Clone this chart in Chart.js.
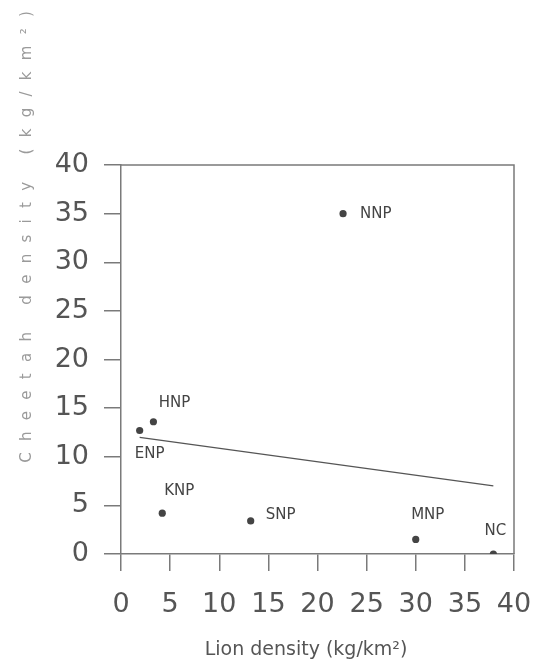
<!DOCTYPE html>
<html>
<head>
<meta charset="utf-8">
<script src="https://cdn.jsdelivr.net/npm/chart.js@4/dist/chart.umd.min.js"></script>
<style>
  html, body { margin: 0; padding: 0; background: #fff; }
  #wrap { width: 534px; height: 666px; }
</style>
</head>
<body>
<div id="wrap"><canvas id="chart"></canvas></div>
<script>
// Data
var parks = ["NNP", "HNP", "ENP", "KNP", "SNP", "MNP", "NC"];
var lionDensity = [22.6, 3.3, 1.9, 4.2, 13.2, 30.0, 37.9];
var cheetahDensity = [35.0, 13.6, 12.7, 4.2, 3.4, 1.5, 0.0];

// regression line end points
var fitX = [1.9, 37.9];
var fitY = [12.0, 7.0];

var axisTicks = [0, 5, 10, 15, 20, 25, 30, 35, 40];

// where each park label sits relative to its dot (px)
var labelOffsets = {
    NNP: { dx: 17, dy: 0, align: "left" },
    HNP: { dx: 21, dy: -19, align: "center" },
    ENP: { dx: 10, dy: 24, align: "center" },
    KNP: { dx: 17, dy: -22, align: "center" },
    SNP: { dx: 15, dy: -6, align: "left" },
    MNP: { dx: 12, dy: -24, align: "center" },
    NC:  { dx: 2,  dy: -23, align: "center" }
};

var axisGrey = "#7a7a7a";
var textGrey = "#555";

// park names next to the dots
var pointLabels = {
    id: "pointLabels",
    afterDatasetsDraw: function (chart) {
        var ctx = chart.ctx;
        var meta = chart.getDatasetMeta(0);
        ctx.save();
        ctx.font = "15px 'DejaVu Sans'";
        ctx.fillStyle = "#444";
        ctx.textBaseline = "middle";
        meta.data.forEach(function (pt, i) {
            var off = labelOffsets[parks[i]];
            ctx.textAlign = off.align;
            ctx.fillText(parks[i], pt.x + off.dx, pt.y + off.dy);
        });
        ctx.restore();
    }
};

// top + right border, the spaced-out y title and the x title
var frame = {
    id: "frame",
    afterDraw: function (chart) {
        var a = chart.chartArea;
        var ctx = chart.ctx;
        ctx.save();
        ctx.strokeStyle = axisGrey;
        ctx.lineWidth = 1.5;
        ctx.beginPath();
        ctx.moveTo(a.left, a.top);
        ctx.lineTo(a.right, a.top);
        ctx.lineTo(a.right, a.bottom);
        ctx.stroke();

        // x title, sits a little left of the plot centre in the original
        ctx.font = "19px 'DejaVu Sans'";
        ctx.fillStyle = textGrey;
        ctx.textAlign = "center";
        ctx.textBaseline = "middle";
        ctx.fillText("Lion density (kg/km\u00B2)", 306, 650);

        // y title, letters spread out
        var title = "Cheetah density (kg/km\u00B2)";
        var spacing = 11.3;
        ctx.font = "15px 'DejaVu Sans'";
        ctx.fillStyle = "#9a9a9a";
        ctx.textAlign = "left";
        var total = 0;
        for (var i = 0; i < title.length; i++) {
            total += ctx.measureText(title[i]).width + (i < title.length - 1 ? spacing : 0);
        }
        ctx.translate(27, 237);
        ctx.rotate(-Math.PI / 2);
        var x = -total / 2;
        for (var j = 0; j < title.length; j++) {
            ctx.fillText(title[j], x, 0);
            x += ctx.measureText(title[j]).width + spacing;
        }
        ctx.restore();
    }
};

var scatterPoints = lionDensity.map(function (v, i) {
    return { x: v, y: cheetahDensity[i] };
});
var fitPoints = fitX.map(function (v, i) {
    return { x: v, y: fitY[i] };
});

var ctx = document.getElementById("chart").getContext("2d");
var myChart = new Chart(ctx, {
    type: "scatter",
    data: {
        datasets: [
            {
                label: "Parks",
                data: scatterPoints,
                backgroundColor: "#444",
                borderWidth: 0,
                pointRadius: 3.6
            },
            {
                type: "line",
                label: "Fit",
                data: fitPoints,
                borderColor: "#555",
                borderWidth: 1.3,
                pointRadius: 0,
                fill: false
            }
        ]
    },
    options: {
        responsive: true,
        maintainAspectRatio: false,
        animation: false,
        layout: { padding: { left: 0, right: 20, top: 165, bottom: 0 } },
        plugins: {
            legend: { display: false },
            tooltip: { enabled: false }
        },
        scales: {
            x: {
                type: "linear",
                min: 0,
                max: 40,
                afterBuildTicks: function (scale) {
                    scale.ticks = axisTicks.map(function (v) { return { value: v }; });
                },
                afterFit: function (scale) {
                    scale.height = 112;
                    scale.paddingLeft = 0;
                    scale.paddingRight = 0;
                },
                ticks: {
                    color: textGrey,
                    font: { family: "DejaVu Sans", size: 27 },
                    padding: 18,
                    maxRotation: 0,
                    autoSkip: false
                },
                grid: {
                    drawOnChartArea: false,
                    drawTicks: true,
                    tickLength: 17,
                    color: axisGrey,
                    lineWidth: 1.5
                },
                border: { color: axisGrey, width: 1.5 },
                title: { display: false }
            },
            y: {
                type: "linear",
                min: 0,
                max: 40,
                afterBuildTicks: function (scale) {
                    scale.ticks = axisTicks.map(function (v) { return { value: v }; });
                },
                afterFit: function (scale) {
                    scale.width = 121;
                    scale.paddingTop = 0;
                    scale.paddingBottom = 0;
                },
                ticks: {
                    color: textGrey,
                    font: { family: "DejaVu Sans", size: 27 },
                    padding: 15,
                    autoSkip: false
                },
                grid: {
                    drawOnChartArea: false,
                    drawTicks: true,
                    tickLength: 17,
                    color: axisGrey,
                    lineWidth: 1.5
                },
                border: { color: axisGrey, width: 1.5 },
                title: { display: false }
            }
        }
    },
    plugins: [pointLabels, frame]
});
</script>
</body>
</html>
